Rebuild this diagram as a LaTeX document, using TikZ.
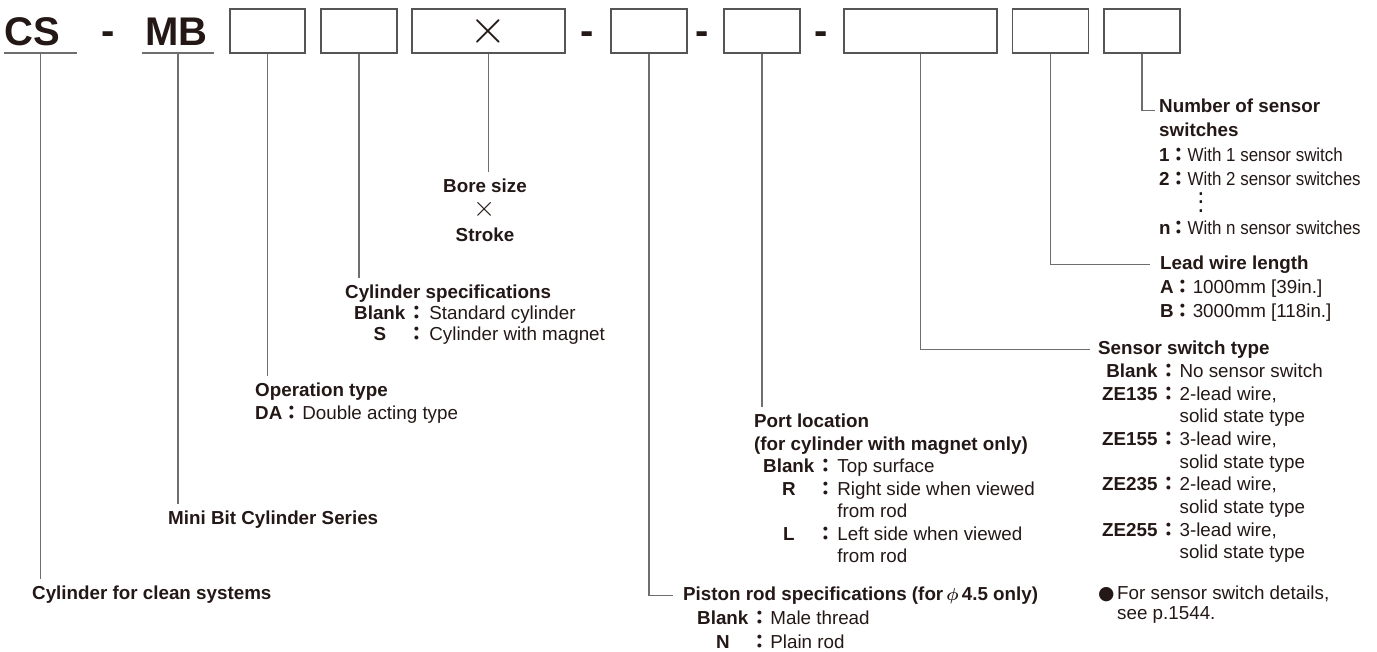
\documentclass[tikz,border=0pt]{standalone}
\usepackage{fontspec}
\usepackage{array}
\setmainfont{Liberation Sans}
\newfontfamily\dejavu{DejaVu Sans}
\newfontfamily\cjk{Noto Sans CJK JP}
\newfontfamily\narrow[FakeStretch=0.9]{Liberation Sans}
\definecolor{ink}{RGB}{35,24,21}
\definecolor{rule}{RGB}{110,110,110}
\definecolor{frame}{RGB}{85,85,85}
\newcommand{\fs}[1]{\fontsize{18.8pt}{#1pt}\selectfont}
\newcommand{\cln}{{\cjk\bfseries ：}}
\newcommand{\threedots}{\smash{\raisebox{-2pt}{\vbox{\baselineskip=8.5pt\hbox{\bfseries .}\hbox{\bfseries .}\hbox{\bfseries .}}}}}
\def\bw{76pt}
\def\bww{153pt}
\def\by{31}

\tikzset{
  slot/.style={draw=frame, line width=1.4pt, minimum height=44pt, inner sep=0pt},
  code/.style={font=\fontsize{40pt}{44pt}\selectfont\bfseries, text=ink, inner sep=0pt},
  conn/.style={draw=rule, line width=1.3pt},
  head/.style={font=\fs{22}\bfseries, text=ink, inner sep=0pt, outer ysep=7pt, anchor=base west},
  body/.style={font=\fs{22}, text=ink, inner sep=0pt, anchor=base west},
}

\begin{document}
\begin{tikzpicture}[x=1pt, y=-1pt]
  \useasboundingbox (0,0) rectangle (1377,652);

  % model code
  \node[code, anchor=south, text depth=7pt] (cs) at (40.5,53) {\makebox[73pt][l]{\hspace{1pt}CS}};
  \node[code, anchor=south, text depth=7pt] (mb) at (178,53) {\makebox[72pt][l]{\hspace{3pt}MB}};
  \draw[conn] (cs.south west) -- (cs.south east);
  \draw[conn] (mb.south west) -- (mb.south east);

  \node[code, anchor=base] (d1) at (108,45) {-};
  \node[code, anchor=base] (d2) at (587,45) {-};
  \node[code, anchor=base] (d3) at (702,45) {-};
  \node[code, anchor=base] (d4) at (821,45) {-};

  % blank slots
  \node[slot, minimum width=75pt] (b1) at (267.5,\by) {};
  \node[slot, minimum width=\bw] (b2) at (359,\by) {};
  \node[slot, minimum width=\bww, font=\fs{22}, text=ink] (b3) at (488.5,\by) {\scalebox{2.8}{$\times$}};
  \node[slot, minimum width=\bw] (b4) at (649,\by) {};
  \node[slot, minimum width=\bw] (b5) at (762,\by) {};
  \node[slot, minimum width=\bww] (b6) at (920.5,\by) {};
  \node[slot, minimum width=\bw] (b7) at (1050.5,\by) {};
  \node[slot, minimum width=\bw] (b8) at (1142,\by) {};

  % labels
  \node[head] (cyl) at (32,599.5) {Cylinder for clean systems};
  \node[head] (mbs) at (168,524.5) {Mini Bit Cylinder Series};

  \node[head] (opt) at (255,396.5) {Operation type};
  \node[body, font=\fs{23}] (optb) at (255,419.5) {\begin{tabular}[t]{@{}>{\bfseries}l@{}w{c}{20pt}@{}l@{}}
    DA & \cln & Double acting type
  \end{tabular}};

  \node[head] (spec) at (345,298.5) {Cylinder specifications};
  \node[body, font=\fs{21}] (specb) at (354,319.5) {\begin{tabular}[t]{@{}>{\bfseries}c@{}w{c}{24pt}@{}l@{}}
    Blank & \cln & Standard cylinder\\
    S & \cln & Cylinder with magnet
  \end{tabular}};

  \node[head, anchor=base] (bore) at (485,192.5) {Bore size};
  \node[body, anchor=base, font=\fs{24.5}] (boreb) at (485,217) {\begin{tabular}[t]{@{}c@{}}
    \scalebox{1.65}{$\times$}\\
    \bfseries Stroke
  \end{tabular}};

  \node[head] (port) at (754,427.5) {Port location};
  \node[body, font=\fs{22.5}] (portb) at (754,450) {\begin{tabular}[t]{@{\hspace{9pt}}>{\bfseries}c@{}w{c}{23pt}@{}l@{}}
    \multicolumn{3}{@{}l@{}}{\bfseries (for cylinder with magnet only)}\\
    Blank & \cln & Top surface\\
    R & \cln & Right side when viewed\\
     & & from rod\\
    L & \cln & Left side when viewed\\
     & & from rod
  \end{tabular}};

  \node[head] (pist) at (683,600.7) {Piston rod specifications (for\,{\boldmath$\phi$}\,4.5 only)};
  \node[body, font=\fs{24}] (pistb) at (683,624.7) {\begin{tabular}[t]{@{\hspace{14pt}}>{\bfseries}c@{}w{c}{22pt}@{}l@{}}
    Blank & \cln & Male thread\\
    N & \cln & Plain rod
  \end{tabular}};

  \node[head] (sst) at (1098,354.7) {Sensor switch type};
  \node[body, font=\fs{22.7}] (sstb) at (1098,377.4) {\begin{tabular}[t]{@{\hspace{4pt}}>{\bfseries}r@{}w{c}{22pt}@{}l@{}}
    Blank & \cln & No sensor switch\\
    ZE135 & \cln & 2-lead wire,\\
     & & solid state type\\
    ZE155 & \cln & 3-lead wire,\\
     & & solid state type\\
    ZE235 & \cln & 2-lead wire,\\
     & & solid state type\\
    ZE255 & \cln & 3-lead wire,\\
     & & solid state type
  \end{tabular}};

  \node[head] (lwl) at (1160,269.5) {Lead wire length};
  \node[body, font=\fs{24}] (lwlb) at (1160,293.5) {\begin{tabular}[t]{@{}>{\bfseries}l@{}w{c}{19pt}@{}l@{}}
    A & \cln & 1000mm [39in.]\\
    B & \cln & 3000mm [118in.]
  \end{tabular}};

  \node[head] (nss) at (1159,112.5) {Number of sensor};
  \node[body, font=\fs{24.5}] (nssb) at (1159,137) {\begin{tabular}[t]{@{}>{\bfseries}l@{}w{c}{17pt}@{}>{\narrow}l@{}}
    \multicolumn{3}{@{}l@{}}{\bfseries switches}\\
    1 & \cln & With 1 sensor switch\\
    2 & \cln & With 2 sensor switches\\
     & & \hspace{11pt}\threedots\\
    n & \cln & With n sensor switches
  \end{tabular}};

  \node[body, font=\fs{20}] (note) at (1098,599.5) {\begin{tabular}[t]{@{}w{l}{19pt}@{}l@{}}
    {\dejavu ●} & For sensor switch details,\\
     & see p.1544.
  \end{tabular}};

  % leader lines
  \draw[conn] (cs.south) -- (cs.south |- cyl.north);
  \draw[conn] (mb.south) -- (mb.south |- mbs.north);
  \draw[conn] (b1.south) -- (b1.south |- opt.north);
  \draw[conn] (b2.south) -- (b2.south |- spec.north);
  \draw[conn] (b3.south) -- (b3.south |- bore.north);
  \draw[conn] (b4.south) |- ([xshift=-10pt]pist.west);
  \draw[conn] (b5.south) -- (b5.south |- port.north);
  \draw[conn] (b6.south) |- ([xshift=-8pt]sst.west);
  \draw[conn] (b7.south) |- ([xshift=-10pt]lwl.west);
  \draw[conn] (b8.south) |- ([xshift=-4pt,yshift=-5pt]nss.west);
\end{tikzpicture}
\end{document}
